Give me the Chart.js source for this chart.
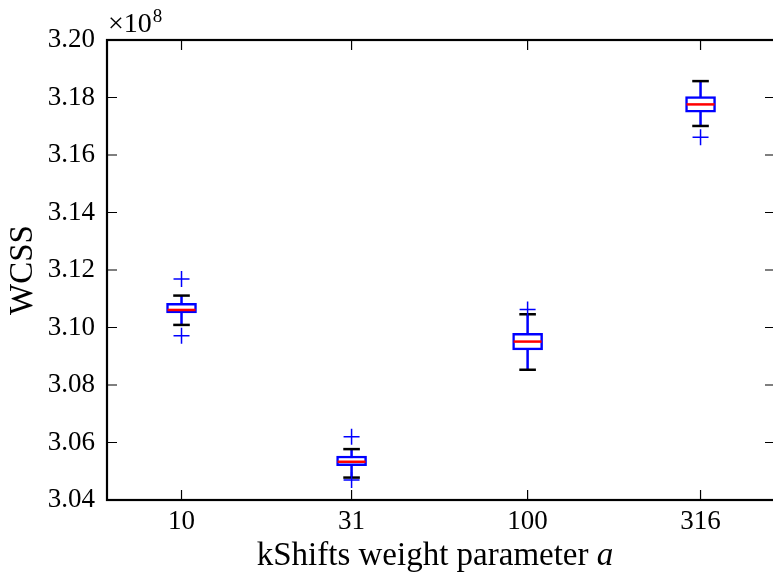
<!DOCTYPE html>
<html>
<head>
<meta charset="utf-8">
<script src="https://cdn.jsdelivr.net/npm/chart.js@4.4.0/dist/chart.umd.min.js"></script>
<style>
  html, body { margin: 0; padding: 0; background: #fff; overflow: hidden; }
  #wrap { width: 800px; height: 576px; }
</style>
</head>
<body>
<div id="wrap"><canvas id="wcssChart"></canvas></div>
<script>
// kShifts weight parameter a (x positions, log axis)
const aValues = [10, 31, 100, 316];
// box plot stats of WCSS
const whiskerLow  = [3.1009e8, 3.0478e8, 3.0853e8, 3.1701e8];
const q1          = [3.1051e8, 3.0519e8, 3.0922e8, 3.1749e8];
const median      = [3.1061e8, 3.0533e8, 3.0951e8, 3.1776e8];
const q3          = [3.1084e8, 3.0553e8, 3.0980e8, 3.1803e8];
const whiskerHigh = [3.1111e8, 3.0577e8, 3.1046e8, 3.1857e8];
const outliers    = [[3.1169e8, 3.0971e8], [3.0620e8, 3.0470e8], [3.1063e8], [3.1662e8]];
// y tick values
const yTicks = [3.04e8, 3.06e8, 3.08e8, 3.10e8, 3.12e8, 3.14e8, 3.16e8, 3.18e8, 3.20e8];

const serif = '"Liberation Serif", "DejaVu Serif", serif';

// whiskers as one broken line
const whiskerData = [];
aValues.forEach((a, i) => {
    whiskerData.push({ x: a, y: whiskerLow[i] }, { x: a, y: whiskerHigh[i] }, { x: a, y: null });
});
const capData = [];
aValues.forEach((a, i) => {
    capData.push({ x: a, y: whiskerLow[i] }, { x: a, y: whiskerHigh[i] });
});
const outlierData = [];
aValues.forEach((a, i) => {
    outliers[i].forEach(v => outlierData.push({ x: a, y: v }));
});

// inward ticks on all sides, frame, x label with italic a, and the x10^8 offset text
const framePlugin = {
    id: 'frame',
    afterDraw(chart) {
        const ctx = chart.ctx;
        const area = chart.chartArea;
        const xs = chart.scales.x, ys = chart.scales.y;
        ctx.save();
        ctx.strokeStyle = '#000';
        ctx.lineWidth = 1.2;
        ctx.beginPath();
        ys.ticks.forEach(t => {
            const py = ys.getPixelForValue(t.value);
            ctx.moveTo(area.left, py); ctx.lineTo(area.left + 10, py);
            ctx.moveTo(area.right, py); ctx.lineTo(area.right - 10, py);
        });
        xs.ticks.forEach(t => {
            const px = xs.getPixelForValue(t.value);
            ctx.moveTo(px, area.bottom); ctx.lineTo(px, area.bottom - 10);
            ctx.moveTo(px, area.top); ctx.lineTo(px, area.top + 10);
        });
        ctx.stroke();
        ctx.lineWidth = 2.2;
        ctx.strokeRect(area.left, area.top, area.right - area.left, area.bottom - area.top);

        ctx.fillStyle = '#000';
        ctx.textBaseline = 'alphabetic';
        ctx.textAlign = 'left';

        // x axis label
        const part1 = 'kShifts weight parameter ';
        ctx.font = '33px ' + serif;
        const w1 = ctx.measureText(part1).width;
        ctx.font = 'italic 33px ' + serif;
        const w2 = ctx.measureText('a').width;
        const x0 = 435 - (w1 + w2) / 2;
        ctx.font = '33px ' + serif;
        ctx.fillText(part1, x0, 565);
        ctx.font = 'italic 33px ' + serif;
        ctx.fillText('a', x0 + w1, 565);

        // offset text
        ctx.font = '28px ' + serif;
        const base = '\u00d710';
        ctx.fillText(base, area.left + 1, 32);
        const w = ctx.measureText(base).width;
        ctx.font = '19px ' + serif;
        ctx.fillText('8', area.left + 1 + w + 1, 22);
        ctx.restore();
    }
};

const ctx = document.getElementById('wcssChart').getContext('2d');
const wcssChart = new Chart(ctx, {
    type: 'scatter',
    data: {
        datasets: [
            {
                type: 'bar',
                data: aValues.map((a, i) => ({ x: a, y: [q1[i], q3[i]] })),
                backgroundColor: '#ffffff',
                borderColor: '#0000ff',
                borderWidth: 2.5,
                borderSkipped: false,
                barThickness: 30,
                order: 3
            },
            {
                type: 'scatter',
                data: whiskerData,
                showLine: true,
                spanGaps: false,
                borderColor: '#0000ff',
                borderWidth: 2.5,
                pointRadius: 0,
                order: 4
            },
            {
                data: capData,
                pointStyle: 'line',
                pointRadius: 8.3,
                borderColor: '#000000',
                borderWidth: 2.5,
                order: 2
            },
            {
                data: aValues.map((a, i) => ({ x: a, y: median[i] })),
                pointStyle: 'line',
                pointRadius: 14,
                borderColor: '#ff0000',
                borderWidth: 2.5,
                order: 1
            },
            {
                data: outlierData,
                pointStyle: 'cross',
                pointRadius: 8,
                borderColor: '#0000ff',
                borderWidth: 1.5,
                order: 0
            }
        ]
    },
    options: {
        responsive: true,
        maintainAspectRatio: false,
        animation: false,
        layout: { padding: { left: 0, right: 25, top: 40, bottom: 0 } },
        plugins: { legend: { display: false }, tooltip: { enabled: false } },
        scales: {
            x: {
                type: 'logarithmic',
                min: 6.091,
                max: 518.6,
                afterBuildTicks: s => { s.ticks = aValues.map(v => ({ value: v })); },
                afterFit: s => { s.height = 76; },
                grid: { display: false, drawTicks: false },
                border: { display: false },
                ticks: {
                    autoSkip: false,
                    maxRotation: 0,
                    padding: 6,
                    color: '#000',
                    font: { family: serif, size: 27 },
                    callback: v => String(v)
                }
            },
            y: {
                min: 3.04e8,
                max: 3.20e8,
                afterBuildTicks: s => { s.ticks = yTicks.map(v => ({ value: v })); },
                afterFit: s => { s.width = 107; },
                grid: { display: false, drawTicks: false },
                border: { display: false },
                ticks: {
                    padding: 12,
                    color: '#000',
                    font: { family: serif, size: 27 },
                    callback: v => (v / 1e8).toFixed(2)
                },
                title: {
                    display: true,
                    text: 'WCSS',
                    color: '#000',
                    font: { family: serif, size: 33 },
                    padding: { top: 4, bottom: 0 }
                }
            }
        }
    },
    plugins: [framePlugin]
});
</script>
</body>
</html>
